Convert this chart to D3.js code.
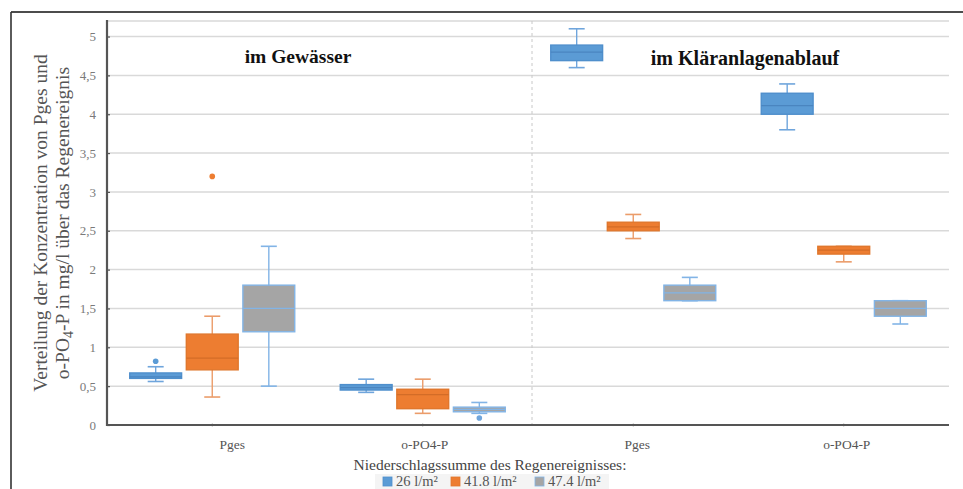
<!DOCTYPE html>
<html>
<head>
<meta charset="utf-8">
<script src="https://cdn.jsdelivr.net/npm/d3@7"></script>
<style>
  body { margin: 0; background: #fff; }
  svg { display: block; }
  text { font-family: "Liberation Serif", "Times New Roman", serif; }
</style>
</head>
<body>
<script>
var width = 963, height = 489;

// categories on the x axis (two panels of two)
var categories = ["Pges", "o-PO4-P", "Pges", "o-PO4-P"];
var panels = ["im Gewässer", "im Kläranlagenablauf"];
var series = ["26 l/m²", "41.8 l/m²", "47.4 l/m²"];
var yTicks = [0, 0.5, 1, 1.5, 2, 2.5, 3, 3.5, 4, 4.5, 5];

// box stats per series, one entry per category: [min, q1, median, q3, max]
var stats26 = [[0.56, 0.60, 0.62, 0.67, 0.75], [0.42, 0.45, 0.48, 0.52, 0.59], [4.60, 4.69, 4.80, 4.89, 5.10], [3.80, 4.00, 4.11, 4.27, 4.39]];
var stats41 = [[0.36, 0.71, 0.86, 1.17, 1.40], [0.15, 0.21, 0.39, 0.46, 0.59], [2.40, 2.50, 2.55, 2.61, 2.71], [2.10, 2.20, 2.25, 2.30, 2.30]];
var stats47 = [[0.50, 1.20, 1.50, 1.80, 2.30], [0.15, 0.17, 0.20, 0.23, 0.29], [1.60, 1.60, 1.70, 1.80, 1.90], [1.30, 1.40, 1.50, 1.60, 1.60]];
var outliers26 = [[0.82], [], [], []];
var outliers41 = [[3.2], [], [], []];
var outliers47 = [[], [0.09], [], []];

var allStats = [stats26, stats41, stats47];
var allOutliers = [outliers26, outliers41, outliers47];

var fills = ["#5b9bd5", "#ed7d31", "#a5a5a5"];
var borders = ["#4f8fcc", "#e0772d", "#82b4e6"];
var whiskerCol = ["#6fa5dc", "#eb9c6a", "#82b4e6"];
var medianCol = ["#4a85c0", "#d36c27", "#82b4e6"];

var plotL = 107, plotR = 949, plotT = 21, plotB = 425;
var serif = "Liberation Serif, Times New Roman, serif";

var svg = d3.select("body").append("svg")
    .attr("width", width)
    .attr("height", height)
    .attr("font-family", serif);

// outer frame
svg.append("line").attr("x1", 11).attr("x2", width).attr("y1", 12).attr("y2", 12)
    .attr("stroke", "#111").attr("stroke-width", 1.6);
svg.append("line").attr("x1", 11).attr("x2", 11).attr("y1", 12).attr("y2", height)
    .attr("stroke", "#333").attr("stroke-width", 1.6);

var x = d3.scaleBand()
    .domain(d3.range(categories.length))
    .range([plotL, plotR]);

var xs = d3.scaleBand()
    .domain(d3.range(series.length))
    .range([-82.5, 82.5])
    .paddingInner(0.0833);

var y = d3.scaleLinear()
    .domain([0, 5.2])
    .range([plotB, plotT]);

// gridlines
svg.append("g").selectAll("line")
    .data(yTicks.slice(1).concat([5.2]))
    .enter().append("line")
    .attr("x1", plotL).attr("x2", plotR)
    .attr("y1", d => y(d)).attr("y2", d => y(d))
    .attr("stroke", "#d9d9d9")
    .attr("stroke-width", 1.5);

// panel separator
svg.append("line")
    .attr("x1", x(2) + 4).attr("x2", x(2) + 4)
    .attr("y1", plotT).attr("y2", plotB)
    .attr("stroke", "#c8c8c8")
    .attr("stroke-dasharray", "3,3");

// y axis
var yAxis = svg.append("g")
    .attr("transform", "translate(" + plotL + ",0)")
    .call(d3.axisRight(y).tickValues(yTicks).tickSize(3)
        .tickFormat(d => String(d).replace(".", ",")));
yAxis.attr("font-family", serif);
yAxis.select(".domain").remove();
yAxis.selectAll(".tick line").attr("stroke", "#555").attr("stroke-width", 1.2);
yAxis.selectAll(".tick text")
    .attr("x", -11)
    .attr("text-anchor", "end")
    .attr("fill", "#7a7a7a")
    .style("font-size", "13px");
svg.append("line")
    .attr("x1", plotL).attr("x2", plotL).attr("y1", plotT - 1).attr("y2", plotB + 1)
    .attr("stroke", "#555").attr("stroke-width", 2.2);

// x axis
var xAxis = svg.append("g")
    .attr("transform", "translate(0," + plotB + ")")
    .call(d3.axisBottom(x).tickSize(0).tickPadding(14)
        .tickFormat(i => categories[i]));
xAxis.attr("font-family", serif);
xAxis.select(".domain").remove();
xAxis.selectAll(".tick text")
    .attr("fill", "#555")
    .attr("dx", (i) => [20, 2, 4, 3][i])
    .style("font-size", "13.5px");
xAxis.selectAll(".tick").append("circle")
    .attr("r", 1.2).attr("fill", "#333");
svg.append("line")
    .attr("x1", plotL).attr("x2", plotR).attr("y1", plotB).attr("y2", plotB)
    .attr("stroke", "#555").attr("stroke-width", 2.2);

// boxes
var boxW = xs.bandwidth();
var capW = 16;
allStats.forEach(function(st, s) {
    var g = svg.append("g");
    st.forEach(function(d, i) {
        var cx = x(i) + x.bandwidth() / 2 + xs(s) + boxW / 2;
        var b = g.append("g");
        b.append("line")
            .attr("x1", cx).attr("x2", cx).attr("y1", y(d[4])).attr("y2", y(d[0]))
            .attr("stroke", whiskerCol[s]).attr("stroke-width", 1.4);
        [d[0], d[4]].forEach(function(v) {
            b.append("line")
                .attr("x1", cx - capW / 2).attr("x2", cx + capW / 2)
                .attr("y1", y(v)).attr("y2", y(v))
                .attr("stroke", whiskerCol[s]).attr("stroke-width", 1.6);
        });
        b.append("rect")
            .attr("x", cx - boxW / 2).attr("width", boxW)
            .attr("y", y(d[3])).attr("height", Math.max(y(d[1]) - y(d[3]), 3))
            .attr("fill", fills[s])
            .attr("stroke", borders[s]).attr("stroke-width", 1.4);
        b.append("line")
            .attr("x1", cx - boxW / 2).attr("x2", cx + boxW / 2)
            .attr("y1", y(d[2])).attr("y2", y(d[2]))
            .attr("stroke", medianCol[s]).attr("stroke-width", 1.2);
        b.selectAll("circle")
            .data(allOutliers[s][i])
            .enter().append("circle")
            .attr("cx", cx).attr("cy", v => y(v)).attr("r", 2.8)
            .attr("fill", s == 2 ? "#6fa5dc" : fills[s]);
    });
});

// panel headings
svg.append("text").attr("x", 298).attr("y", 63)
    .attr("text-anchor", "middle").attr("font-weight", "bold")
    .style("font-size", "19.5px").attr("fill", "#111").text(panels[0]);
svg.append("text").attr("x", 745).attr("y", 65)
    .attr("text-anchor", "middle").attr("font-weight", "bold")
    .style("font-size", "20px").attr("fill", "#111").text(panels[1]);

// y label
var yl = svg.append("text")
    .attr("transform", "translate(47,223) rotate(-90)")
    .attr("text-anchor", "middle")
    .attr("fill", "#555")
    .style("font-size", "19.5px");
yl.append("tspan").attr("x", 0).attr("y", 0).text("Verteilung der Konzentration von Pges und");
var l2 = yl.append("tspan").attr("x", 0).attr("y", 22);
l2.append("tspan").text("o-PO");
l2.append("tspan").attr("dy", 4).style("font-size", "14px").text("4");
l2.append("tspan").attr("dy", -4).text("-P in mg/l über das Regenereignis");

// legend
svg.append("text").attr("x", 490).attr("y", 470)
    .attr("text-anchor", "middle").attr("fill", "#444")
    .style("font-size", "15.5px").text("Niederschlagssumme des Regenereignisses:");
svg.append("rect").attr("x", 375).attr("y", 474).attr("width", 234).attr("height", 15)
    .attr("fill", "#f4f4f4");
var legX = [383, 451, 535];
series.forEach(function(name, s) {
    svg.append("rect")
        .attr("x", legX[s]).attr("y", 477).attr("width", 9).attr("height", 9)
        .attr("fill", fills[s]).attr("stroke", borders[s]).attr("stroke-width", 0.8);
    svg.append("text")
        .attr("x", legX[s] + 13).attr("y", 486)
        .attr("fill", "#555").style("font-size", "14.5px").text(name);
});
</script>
</body>
</html>
